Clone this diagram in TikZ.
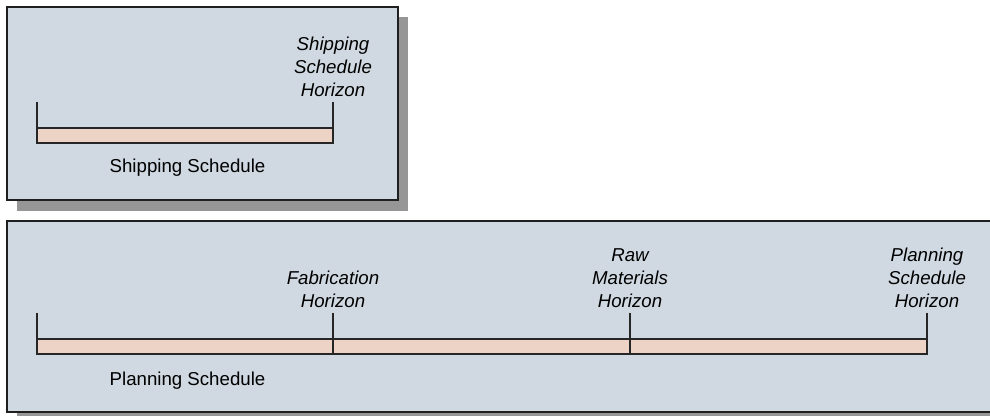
\documentclass[tikz,border=0pt]{standalone}
\usepackage{fontspec}
\setmainfont{Liberation Sans}
\definecolor{panelfill}{HTML}{D0D9E1}
\definecolor{barfill}{HTML}{EDD2C6}
\definecolor{shadowgray}{HTML}{969696}
\begin{document}
\begin{tikzpicture}[x=0.75pt,y=-0.75pt]
                \tikzset{every node/.style={font=\fontsize{14}{17.25}\selectfont, align=center, inner sep=0pt},
                    horizon/.style={font=\fontsize{14}{17.25}\selectfont\itshape, anchor=south},
                    panel/.style={fill=panelfill, draw=black!88, line width=1.5pt},
                    schedbar/.style={fill=barfill, draw=black!85, line width=1.1pt},
                    tick/.style={draw=black!85, line width=1.1pt}}
                \useasboundingbox (0,0) rectangle (990,416);
                \clip (0,0) rectangle (990,416);
                % upper panel (shipping)
                \fill[shadowgray] (17,17) rectangle (408,211);
                \draw[panel] (7,7) rectangle (398,200);
                \draw[schedbar] (37,128) rectangle (333,143);
                \coordinate (shipStartTop) at (37,102);
                \coordinate (shipStartBot) at (37,143);
                \coordinate (shipEndTop) at (333,102);
                \coordinate (shipEndBot) at (333,143);
                \draw[tick] (shipStartTop) -- (shipStartBot);
                \draw[tick] (shipEndTop) -- (shipEndBot);
                \node[horizon] (shipHorizon) at (333,97) {Shipping\\Schedule\\Horizon};
                \node[anchor=base] (shipLabel) at (187.5,173) {Shipping Schedule};
                % lower panel (planning)
                \fill[shadowgray] (17,231) rectangle (1000,426);
                \draw[panel] (7,221) rectangle (995,412);
                \draw[schedbar] (37,339) rectangle (927,354);
                \coordinate (planStartTop) at (37,313);
                \coordinate (planStartBot) at (37,354);
                \coordinate (fabTop) at (333,313);
                \coordinate (fabBot) at (333,354);
                \coordinate (rawTop) at (630,313);
                \coordinate (rawBot) at (630,354);
                \coordinate (planEndTop) at (927,313);
                \coordinate (planEndBot) at (927,354);
                \draw[tick] (planStartTop) -- (planStartBot);
                \draw[tick] (fabTop) -- (fabBot);
                \draw[tick] (rawTop) -- (rawBot);
                \draw[tick] (planEndTop) -- (planEndBot);
                \node[horizon] (fabHorizon) at (333,307.5) {Fabrication\\Horizon};
                \node[horizon] (rawHorizon) at (630,307.5) {Raw\\Materials\\Horizon};
                \node[horizon] (planHorizon) at (927,307.5) {Planning\\Schedule\\Horizon};
                \node[anchor=base] (planLabel) at (187.5,386) {Planning Schedule};
\end{tikzpicture}
\end{document}
